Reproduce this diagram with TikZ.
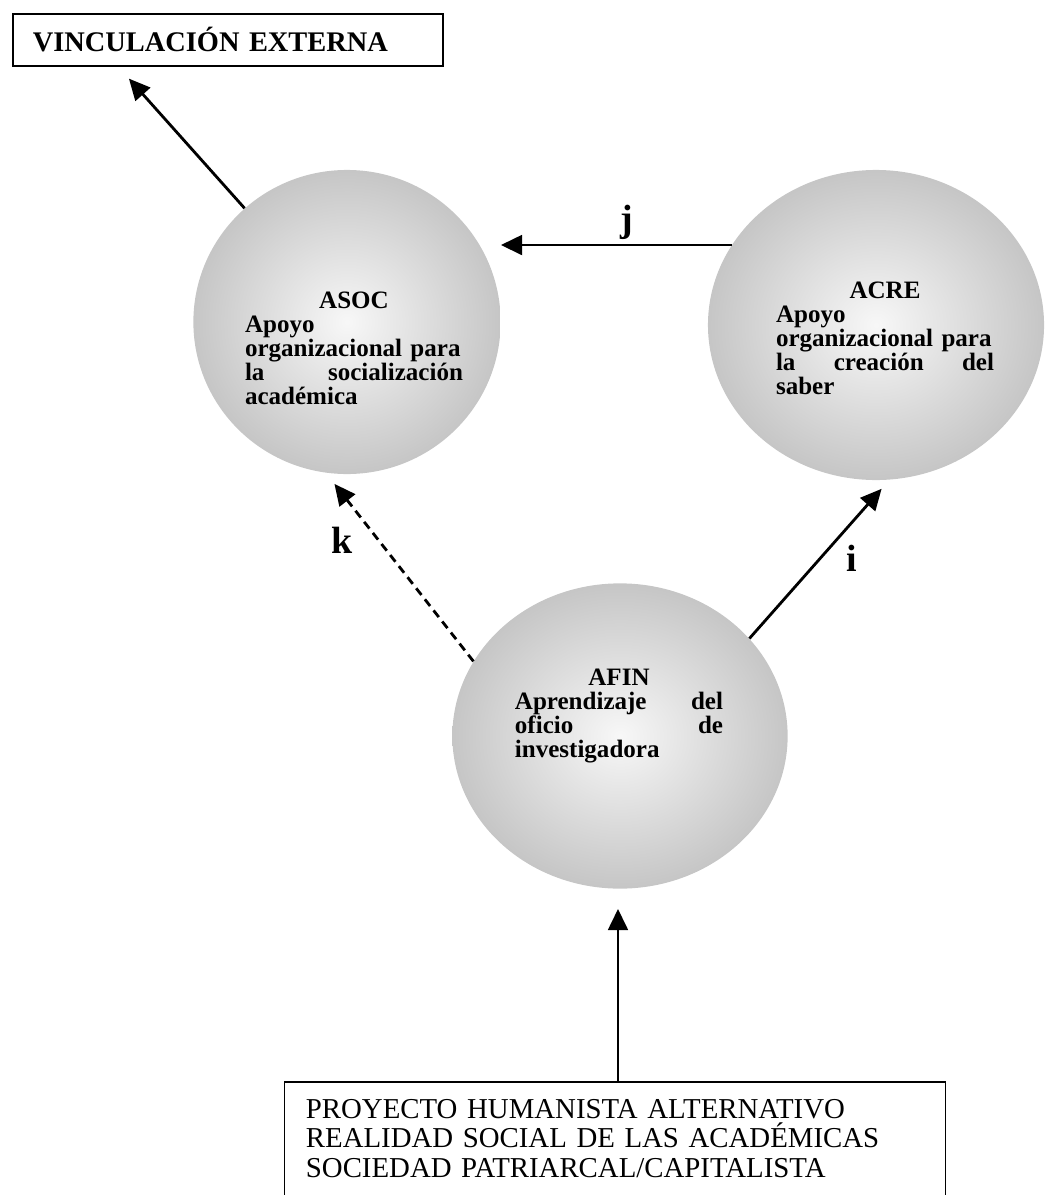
\documentclass[tikz,border=0pt]{standalone}
\usepackage{fontspec}
\setmainfont{Liberation Serif}
\usetikzlibrary{positioning}
\usetikzlibrary{shapes.geometric}
\usetikzlibrary{arrows.meta}

\begin{document}
\begin{tikzpicture}[x=0.025cm, y=-0.025cm,
		area/.style={ellipse, shade, inner color=gray!6, outer color=gray!45, inner sep=0pt},
		areatext/.style={anchor=north, inner sep=0pt, text width=155pt, align=left,
			font=\fontsize{17.8}{17}\selectfont\bfseries},
		framebox/.style={line width=1.2pt},
		arr/.style={line width=2pt, -{Triangle[length=15pt,width=14pt]}},
		lbl/.style={inner sep=0pt, font=\fontsize{27}{27}\selectfont\bfseries}
		]
		\useasboundingbox (0,0) rectangle (1047,1195);
		
		\node[area, minimum width=7.68cm, minimum height=7.6cm] (asoc) at (347,322) {};
		\node[area, minimum width=8.4cm, minimum height=7.75cm] (acre) at (876,325) {};
		\node[area, minimum width=8.38cm, minimum height=7.63cm] (afin) at (620,736) {};
		
		\node[areatext] (asoctxt) at (354,292) {\hfill ASOC\hfill\null\\
			Apoyo\\ organizacional~para\\ la\hfill socialización\\ académica};
		\node[areatext] (acretxt) at (885,282) {\hfill ACRE\hfill\null\\
			Apoyo\\ organizacional~para\\ la\hfill creación\hfill del\\ saber};
		\node[areatext, text width=148pt] (afintxt) at (619,669) {\hfill AFIN\hfill\null\\
			Aprendizaje\hfill del\\ oficio\hfill de\\ investigadora};
		
		\node[framebox, draw, anchor=north west, text width=9.75cm, inner xsep=0.5cm,
			minimum height=1.3cm, align=left,
			font=\fontsize{20.2}{24}\selectfont\bfseries] (vinc) at (12,13) {VINCULACIÓN EXTERNA};
		
		\node[anchor=north, text width=15.45cm, inner xsep=0.525cm, inner ysep=0.425cm,
			align=left, font=\fontsize{20.5}{21}\selectfont] (base) at (615,1082)
			{PROYECTO HUMANISTA ALTERNATIVO\\ REALIDAD SOCIAL DE LAS ACADÉMICAS\\
			SOCIEDAD PATRIARCAL/CAPITALISTA};
		\draw[framebox] (base.north west) rectangle ([yshift=-1cm]base.south east);
		
		% connectors between the areas
		\draw[arr, shorten >=0.4cm] (asoc.132) -- ([xshift=-2.74cm]vinc.south);
		\draw[arr] (acre.151) -- (acre.151 -| asoc.east);
		\draw[arr, dash pattern=on 6pt off 4pt, shorten >=0.35cm] (afin.153) -- (asoc.262);
		\draw[arr, shorten >=0.3cm] (afin.37) -- (acre.275);
		\draw[arr, shorten >=0.5cm] ([xshift=0.075cm]base.north) -- ([xshift=0.075cm]base.north |- afin.south);
		
		\node[lbl] (lj) at (627,222) {j};
		\node[lbl] (lk) at (342,540) {k};
		\node[lbl] (li) at (852,558) {i};
	\end{tikzpicture}
\end{document}
